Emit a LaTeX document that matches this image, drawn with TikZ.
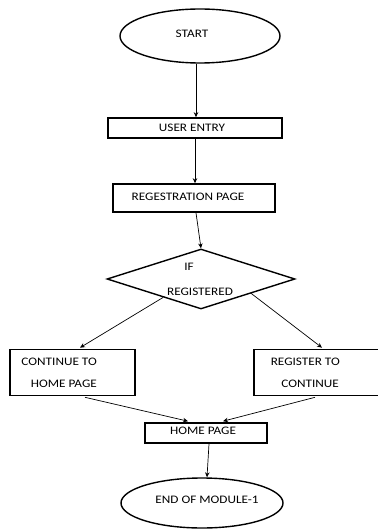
\documentclass[tikz,border=0pt]{standalone}
\usepackage{fontspec}
\setmainfont{Carlito}[FakeStretch=1.15]
\usetikzlibrary{shapes.geometric,arrows.meta,calc}
\tikzset{
  box/.style={draw, line width=1.6pt, inner sep=0pt},
  oval/.style={draw, ellipse, line width=1.4pt, inner sep=0pt},
  decision/.style={draw, diamond, line width=1.4pt, inner sep=0pt},
  txt/.style={inner sep=0pt, font=\fontsize{11.5}{14}\selectfont},
  conn/.style={line width=0.7pt, -{Stealth[length=5pt,width=4.5pt]}}
}
\begin{document}
\begin{tikzpicture}[x=1pt,y=-1pt]
\useasboundingbox (0,0) rectangle (377,529);
% shapes
\node[oval, minimum width=160pt, minimum height=54pt] (start) at (200,36) {};
\node[box, minimum width=174pt, minimum height=20pt] (user) at (195,128) {};
\node[box, minimum width=162pt, minimum height=28pt] (reg) at (194,198) {};
\node[decision, minimum width=188pt, minimum height=60pt] (dia) at (201,279) {};
\node[box, minimum width=125pt, minimum height=46pt] (cont) at (72.5,372.5) {};
\node[box, minimum width=128pt, minimum height=46pt] (regto) at (318,372.5) {};
\node[box, minimum width=122pt, minimum height=20pt] (home) at (206,433) {};
\node[oval, minimum width=162pt, minimum height=50pt] (fin) at (202,503) {};
% texts
\node[txt] (tstart) at (192,34) {START};
\node[txt] (tuser) at (192,128) {USER ENTRY};
\node[txt] (treg) at (188,197) {REGESTRATION PAGE};
\node[txt] (tif) at (189,267) {IF};
\node[txt] (tregd) at (200,292) {REGISTERED};
\node[txt, anchor=east] (tc1) at (97,362) {CONTINUE TO};
\node[txt, anchor=east] (tc2) at (97,384) {HOME PAGE};
\node[txt, anchor=east] (tr1) at (340,362) {REGISTER TO};
\node[txt, anchor=east] (tr2) at (339,384) {CONTINUE};
\node[txt] (thome) at (203,431) {HOME PAGE};
\node[txt] (tfin) at (207,500) {END OF MODULE-1};
% connectors
\coordinate (a1) at ($(start.south)+(-4,0)$);
\coordinate (a2) at ($(user.north)+(1,0)$);
\draw[conn] (a1) -- (a2);
\draw[conn] (user.south) -- (user.south |- reg.north);
\coordinate (b1) at ($(reg.south)+(2,0)$);
\draw[conn] (b1) -- (dia.north);
\coordinate (c1) at ($(dia.west)!0.6!(dia.south)$);
\coordinate (c2) at ($(cont.north)+(7.5,-1)$);
\draw[conn] (c1) -- (c2);
\coordinate (d1) at ($(dia.east)!0.47!(dia.south)$);
\coordinate (d2) at ($(regto.north)+(4,-1)$);
\draw[conn] (d1) -- (d2);
\coordinate (e1) at ($(cont.south)+(12.5,1)$);
\coordinate (e2) at ($(home.north)+(-18,-1)$);
\draw[conn] (e1) -- (e2);
\coordinate (f1) at ($(regto.south)+(-3,1)$);
\coordinate (f2) at ($(home.north)+(17,-1)$);
\draw[conn] (f1) -- (f2);
\coordinate (g1) at ($(home.south)+(3,0)$);
\coordinate (g2) at ($(fin.north)+(5,0)$);
\draw[conn] (g1) -- (g2);
\end{tikzpicture}
\end{document}
